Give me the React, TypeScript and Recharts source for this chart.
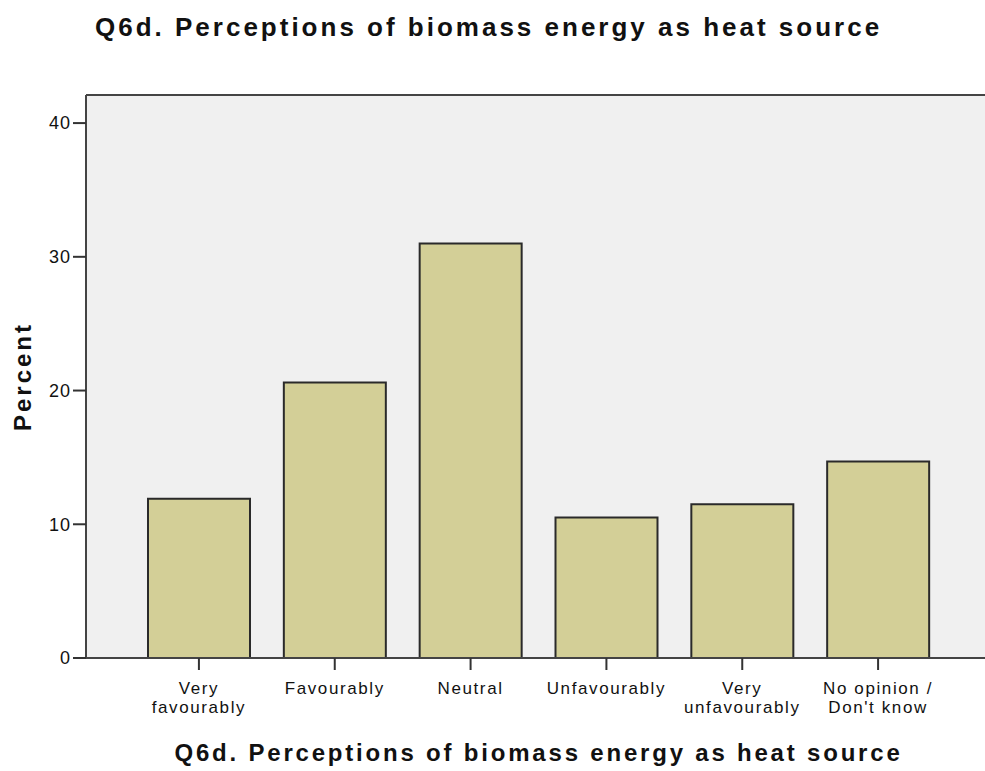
import React from "react";
import {
  BarChart,
  Bar,
  XAxis,
  YAxis,
  CartesianGrid,
  ReferenceLine,
  Label,
} from "recharts";

const categories = [
  "Very\nfavourably",
  "Favourably",
  "Neutral",
  "Unfavourably",
  "Very\nunfavourably",
  "No opinion /\nDon't know",
];
const percents = [11.9, 20.6, 31.0, 10.5, 11.5, 14.7];
const yTicks = [0, 10, 20, 30, 40];

const data = categories.map((name, i) => ({ name, percent: percents[i] }));

const FONT = "'Liberation Sans', Arial, sans-serif";
const TITLE = "Q6d. Perceptions of biomass energy as heat source";

function CategoryTick(props: any) {
  const { x, y, payload } = props;
  const lines = String(payload.value).split("\n");
  return (
    <g>
      {lines.map((line, i) => (
        <text
          key={i}
          x={x}
          y={y + 22 + i * 18.5}
          textAnchor="middle"
          fill="#111"
          fontSize={17}
          fontFamily={FONT}
          style={{ letterSpacing: 1.6 }}
        >
          {line}
        </text>
      ))}
    </g>
  );
}

export default function App() {
  return (
    <div
      style={{
        position: "absolute",
        left: 0,
        top: 0,
        width: 985,
        height: 771,
        overflow: "hidden",
        background: "#fff",
        fontFamily: FONT,
      }}
    >
      <div
        style={{
          position: "absolute",
          left: 95,
          top: 12,
          fontSize: 26,
          fontWeight: "bold",
          letterSpacing: 3,
          color: "#111",
          whiteSpace: "nowrap",
        }}
      >
        {TITLE}
      </div>
      <BarChart
        width={995}
        height={771}
        data={data}
        margin={{ top: 95, right: 4, bottom: 0, left: 0 }}
        barCategoryGap={17}
      >
        <CartesianGrid
          fill="#f0f0f0"
          horizontal={false}
          vertical={false}
          stroke="none"
        />
        <XAxis
          dataKey="name"
          interval={0}
          padding={{ left: 45, right: 45 }}
          axisLine={{ stroke: "#444", strokeWidth: 2 }}
          tickLine={{ stroke: "#333", strokeWidth: 2 }}
          tickSize={12}
          tick={<CategoryTick />}
          height={113}
        >
          <Label
            value={TITLE}
            position="insideBottom"
            offset={10}
            style={{
              fontSize: 24,
              fontWeight: "bold",
              letterSpacing: 2.8,
              fill: "#111",
              fontFamily: FONT,
              textAnchor: "middle",
            }}
          />
        </XAxis>
        <YAxis
          width={86}
          domain={[0, 42.1]}
          ticks={yTicks}
          allowDataOverflow
          axisLine={{ stroke: "#444", strokeWidth: 2 }}
          tickLine={{ stroke: "#333", strokeWidth: 2 }}
          tickSize={13}
          tick={{ fill: "#111", fontSize: 18, fontFamily: FONT, style: { letterSpacing: 1 } }}
        >
          <Label
            value="Percent"
            angle={-90}
            position="insideLeft"
            offset={22}
            style={{
              fontSize: 24,
              fontWeight: "bold",
              letterSpacing: 3,
              fill: "#111",
              fontFamily: FONT,
              textAnchor: "middle",
            }}
          />
        </YAxis>
        <ReferenceLine y={42.1} stroke="#444" strokeWidth={2} />
        <Bar
          dataKey="percent"
          fill="#d3cf97"
          stroke="#2a2a2a"
          strokeWidth={2}
          isAnimationActive={false}
        />
      </BarChart>
    </div>
  );
}
